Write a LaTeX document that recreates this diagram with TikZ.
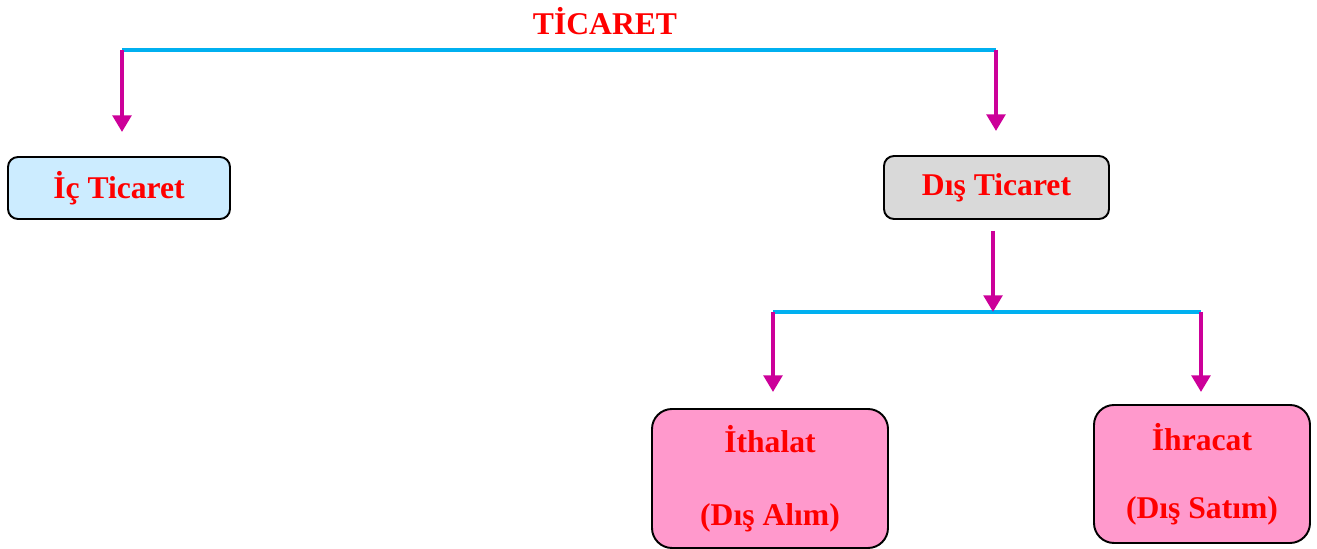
\documentclass[tikz,border=0pt]{standalone}
\usepackage{fontspec}
\setmainfont{Liberation Serif}
\usetikzlibrary{arrows.meta,positioning,calc}
\definecolor{titlered}{RGB}{255,0,0}
\definecolor{branchblue}{RGB}{0,176,240}
\definecolor{arrowmagenta}{RGB}{204,0,153}
\definecolor{icblue}{RGB}{204,236,255}
\definecolor{disgray}{RGB}{217,217,217}
\definecolor{subpink}{RGB}{255,153,204}
\tikzstyle{label} = [text=titlered,font=\fontsize{18}{21.6}\selectfont\bfseries,inner sep=0pt]
\tikzstyle{smallbox} = [rectangle,rounded corners=0.2cm,draw=black,line width=1.1pt,text=titlered,font=\fontsize{18}{21.6}\selectfont\bfseries,align=center]
\tikzstyle{bigbox} = [smallbox,rounded corners=0.4cm]
\tikzstyle{branch} = [branchblue,line width=2.3pt]
\tikzstyle{down} = [-{Triangle[length=9.5pt,width=10.5pt]},arrowmagenta,line width=2.5pt]

\begin{document}
\begin{tikzpicture}
%--------------------start frame code --------------------
	\useasboundingbox (0,0) rectangle (26.34,-10.98);
%--------------------start object code --------------------
	\node[label] (title) at (12.1,-0.42) {TİCARET};

	%Top branch
	\coordinate (topW) at (2.44,-1.0);
	\coordinate (topE) at (19.92,-1.0);
	\draw[branch] (topW) -- (topE);

	%First level boxes
	\node[smallbox,fill=icblue,minimum width=4.44cm,minimum height=1.24cm] (icbox) at (2.38,-3.76) {İç Ticaret};
	\node[smallbox,fill=disgray,minimum width=4.5cm,minimum height=1.26cm] (disbox) at (19.93,-3.75) {Dış Ticaret};

	\draw[down,shorten >=0.48cm] (topW) -- (topW |- icbox.north);
	\draw[down,shorten >=0.48cm] (topE) -- (topE |- disbox.north);

	%Second branch
	\coordinate (subW) at (15.46,-6.24);
	\coordinate (subE) at (24.02,-6.24);
	\coordinate (subC) at (19.86,-6.24);
	\draw[branch] (subW) -- (subE);
	\draw[down,shorten <=0.22cm] (subC |- disbox.south) -- (subC);

	%Second level boxes
	\node[bigbox,fill=subpink,minimum width=4.72cm,minimum height=2.78cm] (ithbox) at (15.4,-9.57) {İthalat\\[19.8pt](Dış Alım)};
	\node[bigbox,fill=subpink,minimum width=4.32cm,minimum height=2.76cm] (ihrbox) at (24.04,-9.48) {İhracat\\[17.2pt](Dış Satım)};

	\draw[down,shorten >=0.32cm] (subW) -- (subW |- ithbox.north);
	\draw[down,shorten >=0.24cm] (subE) -- (subE |- ihrbox.north);
%-------------------------end object code-----------------------
\end{tikzpicture}
\end{document}
